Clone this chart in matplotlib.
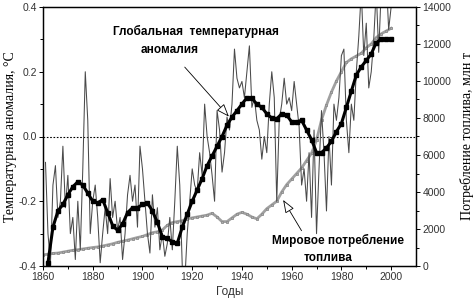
import matplotlib
matplotlib.use("Agg")
import matplotlib.pyplot as plt
import numpy as np

# annual temperature anomaly (thin line), 1861-2000
anom_years = list(range(1861, 2001))
anomaly = [
    -0.08, -0.30, -0.39, -0.15, -0.09, -0.25, -0.20, -0.03, -0.22, -0.12,   # 1861-1870
    -0.30, -0.25, -0.38, -0.20, -0.35, -0.10, 0.20, 0.05, -0.30, -0.20,     # 1871-1880
    -0.15, -0.25, -0.39, -0.30, -0.22, -0.30, -0.13, -0.25, -0.20, -0.29,   # 1881-1890
    -0.25, -0.38, -0.30, -0.18, -0.12, -0.20, -0.15, -0.28, -0.03, -0.10,   # 1891-1900
    -0.20, -0.30, -0.36, -0.18, -0.28, -0.22, -0.35, -0.30, -0.37, -0.33,   # 1901-1910
    -0.25, -0.35, -0.20, -0.03, -0.15, -0.40, -0.45, -0.30, -0.20, -0.10,   # 1911-1920
    -0.15, -0.17, -0.05, -0.12, 0.10, 0.00, -0.05, -0.12, -0.20, 0.08,      # 1921-1930
    0.02, -0.11, -0.05, 0.06, 0.02, 0.10, 0.27, 0.18, 0.15, 0.17,           # 1931-1940
    0.12, 0.20, 0.28, 0.09, 0.12, 0.05, 0.02, -0.07, 0.00, -0.05,           # 1941-1950
    0.10, 0.20, 0.12, -0.20, 0.05, 0.10, 0.18, 0.10, 0.12, 0.08,            # 1951-1960
    0.17, 0.10, 0.03, -0.15, -0.10, -0.20, -0.05, -0.25, 0.02, -0.30,       # 1961-1970
    -0.10, 0.08, -0.05, -0.23, 0.00, -0.15, 0.10, 0.05, 0.12, 0.25,         # 1971-1980
    0.27, 0.05, -0.05, 0.10, 0.05, 0.20, 0.31, 0.45, 0.25, 0.35,            # 1981-1990
    0.15, 0.20, 0.30, 0.45, 0.26, 0.45, 0.40, 0.50, 0.33, 0.40,             # 1991-2000
]

# smoothed anomaly (black line with squares)
smooth_years = list(range(1862, 2001, 2))
smooth = [
    -0.39, -0.28, -0.23, -0.21, -0.18, -0.155, -0.14, -0.15, -0.175, -0.20,
    -0.205, -0.195, -0.235, -0.275, -0.29, -0.27, -0.235, -0.22, -0.22, -0.21,
    -0.205, -0.23, -0.265, -0.31, -0.315, -0.325, -0.33, -0.28, -0.24, -0.20,
    -0.165, -0.13, -0.09, -0.06, -0.03, 0.00, 0.035, 0.06, 0.08, 0.10,
    0.12, 0.118, 0.10, 0.09, 0.07, 0.057, 0.055, 0.07, 0.066, 0.045,
    0.045, 0.05, 0.02, -0.01, -0.05, -0.05, -0.035, -0.015, 0.015, 0.04,
    0.09, 0.14, 0.19, 0.215, 0.235, 0.255, 0.29, 0.30, 0.30, 0.30,
]

# world fuel consumption, million t (grey line)
fuel_years = list(range(1860, 2001, 2))
fuel = [
    600, 640, 680, 700, 750, 800, 850, 880, 920, 960,
    1000, 1030, 1080, 1140, 1200, 1280, 1340, 1400, 1470, 1540,
    1600, 1700, 1800, 1850, 1950, 2200, 2350, 2400, 2450, 2550,
    2600, 2650, 2700, 2750, 2850, 2650, 2400, 2400, 2600, 2800,
    2900, 2800, 2650, 2550, 2800, 3100, 3300, 3500, 4000, 4400,
    4700, 5000, 5300, 5700, 6100, 6800, 7900, 8700, 9400, 10000,
    10500, 11000, 11200, 11350, 11500, 11800, 12000, 12350, 12550, 12700,
    12850,
]

sans = "Liberation Sans"
serif = "Liberation Serif"

fig = plt.figure(figsize=(4.73, 2.99), dpi=100)
ax = fig.add_axes([43 / 473, 1 - 266 / 299, 373 / 473, 259 / 299])
ax2 = ax.twinx()

ax2.plot(fuel_years, fuel, color="#a0a0a0", lw=2.0, marker="s", ms=2.0,
         mec="#8c8c8c", mfc="#b0b0b0", mew=0.6)
ax2.set_ylim(0, 14000)
ax2.set_yticks(range(0, 14001, 2000))
ax2.set_yticks(range(1000, 14000, 2000), minor=True)

ax.set_zorder(ax2.get_zorder() + 1)
ax.patch.set_visible(False)

ax.axhline(0, color="black", lw=0.8, ls=(0, (1.5, 1.5)))
ax.plot(anom_years, anomaly, color="#4a4a4a", lw=0.75)
ax.plot(smooth_years, smooth, color="black", lw=2.2, marker="s", ms=2.8)

ax.set_xlim(1860, 2010)
ax.set_ylim(-0.4, 0.4)
ax.set_xticks(range(1860, 2001, 20))
ax.set_xticks(range(1870, 2010, 10), minor=True)
ax.set_yticks([-0.4, -0.2, 0.0, 0.2, 0.4])
ax.set_yticklabels(["-0.4", "-0.2", "0.0", "0.2", "0.4"])
ax.set_yticks([-0.3, -0.1, 0.1, 0.3], minor=True)

for a in (ax, ax2):
    a.tick_params(which="both", direction="out", labelsize=7.5, labelcolor="#333333",
                  length=3, width=0.7, pad=1.5)
    a.tick_params(which="minor", length=2)
    for s in a.spines.values():
        s.set_linewidth(0.9)
    for lab in a.get_xticklabels() + a.get_yticklabels():
        lab.set_family(sans)

ax.set_xlabel("Годы", fontsize=8.5, family=sans, color="#333333", labelpad=3)
ax.set_ylabel("Температурная аномалия, °С", fontsize=10, family=serif, labelpad=1)
ax2.set_ylabel("Потребление топлива, млн т", fontsize=10, family=serif, labelpad=6)

ax.text(0.41, 0.905, "Глобальная  температурная", transform=ax.transAxes,
        ha="center", va="center", fontsize=8.5, fontweight="bold", family=sans)
ax.text(0.34, 0.835, "аномалия", transform=ax.transAxes,
        ha="center", va="center", fontsize=8.5, fontweight="bold", family=sans)
ax.annotate("", xy=(1935.5, 0.055), xytext=(0.375, 0.776), textcoords="axes fraction",
            arrowprops=dict(arrowstyle="-|>,head_length=0.8,head_width=0.3",
                            fc="white", ec="black", lw=0.6))

ax2.text(0.79, 0.10, "Мировое потребление", transform=ax2.transAxes,
         ha="center", va="center", fontsize=8.5, fontweight="bold", family=sans)
ax2.text(0.765, 0.032, "топлива", transform=ax2.transAxes,
         ha="center", va="center", fontsize=8.5, fontweight="bold", family=sans)
ax2.annotate("", xy=(1956, 3700), xytext=(0.697, 0.127), textcoords="axes fraction",
             arrowprops=dict(arrowstyle="-|>,head_length=0.8,head_width=0.3",
                             fc="white", ec="black", lw=0.6))

fig.savefig("out.png", dpi=100)
